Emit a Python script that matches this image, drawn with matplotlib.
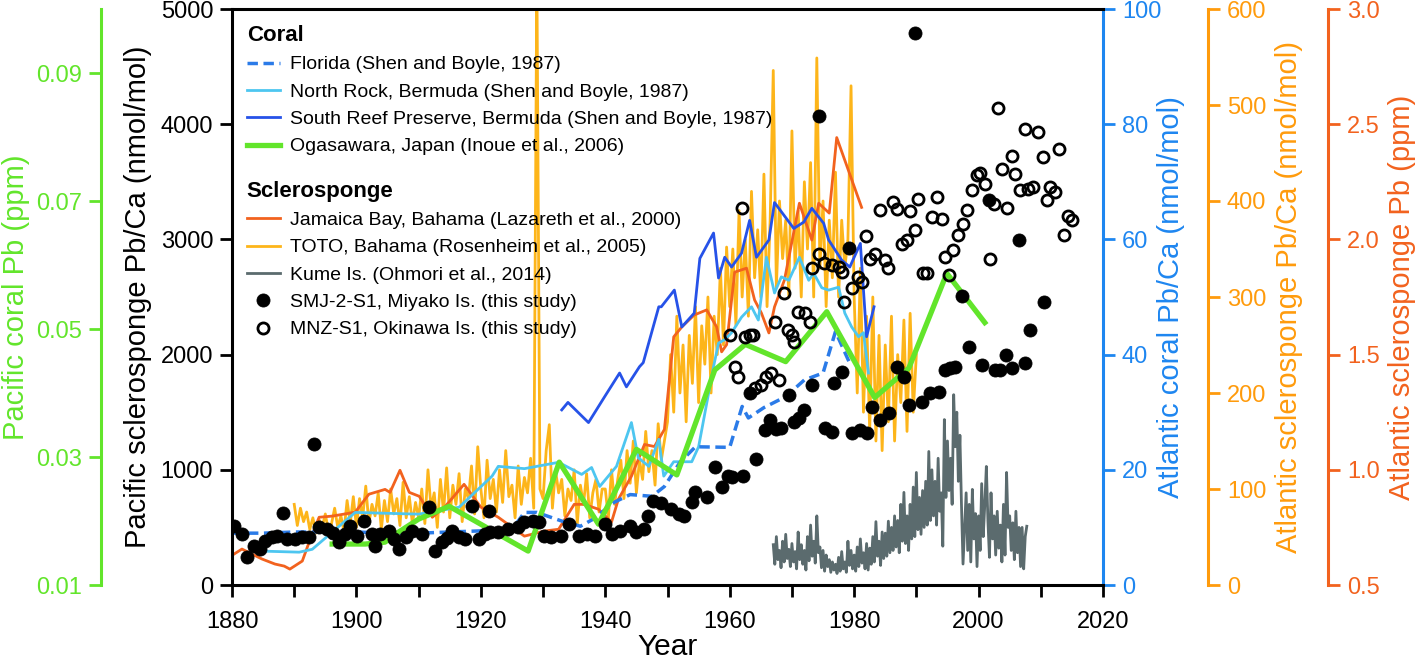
#------------- imports -------------#
import matplotlib
matplotlib.use("Agg")
import matplotlib.pyplot as plt
import numpy as np
from matplotlib.ticker import MultipleLocator, FormatStrFormatter

plt.rcParams['font.family'] = ['Liberation Sans', 'DejaVu Sans']


## colours ##
GREEN = '#62E52B'
BLUE_AX = '#1E86F0'
ORANGE_AX = '#FF9B0C'
RED_AX = '#F2621E'
FLORIDA_C = '#2B7BE8'
NROCK_C = '#4DC6F0'
SREEF_C = '#2652E8'
JAM_C = '#F2621E'
TOTO_C = '#FDB51A'
KUME_C = '#5B6B6E'


## Atlantic coral Pb/Ca (nmol/mol) ##
florida_yr = [1880, 1885, 1890, 1895, 1900, 1905, 1910, 1915, 1920, 1925, 1927, 1929, 1933, 1936,
              1938, 1941.5, 1944, 1947.5, 1949.5, 1952, 1954.5, 1960, 1962, 1963, 1965.5, 1969,
              1972, 1975, 1977, 1979.5]
florida_val = [9.0, 9.0, 9.2, 9.2, 9.2, 9.0, 9.0, 9.2, 9.4, 9.6, 12.6, 12.6, 11.1, 10.2,
               11.4, 14.4, 15.7, 15.4, 17.1, 21.3, 24.0, 23.9, 31.0, 29.0, 30.8, 32.7,
               35.6, 36.8, 44.0, 38.0]

nrock_yr = [1884.3, 1890.8, 1892.9, 1899.8, 1910, 1916.5, 1921.8, 1922.8, 1927, 1932.5,
            1936.2, 1937.8, 1939.1, 1941.8, 1944.2, 1945.3, 1947, 1948.6, 1949.4, 1951,
            1953.9, 1955, 1957.4, 1958.2, 1959.2, 1960.3, 1961.9, 1963.5, 1964.6, 1965.9,
            1967.2, 1968.3, 1969.5, 1971.2, 1972.7, 1973.5, 1974.8, 1975.9, 1977.5, 1978.5,
            1979.6, 1980.7, 1981.5, 1982.3]
nrock_val = [5.9, 5.7, 6.2, 12.6, 12.3, 13.5, 18.9, 20.6, 20.2, 21.3,
             19.2, 20.4, 17.1, 20.6, 28.2, 22.1, 20.6, 25.3, 18.9, 21.4,
             21.4, 24.0, 37.9, 42.0, 42.6, 43.8, 46.5, 48.3, 46.0, 56.9,
             50.7, 53.5, 52.9, 56.9, 52.9, 54.1, 51.6, 51.2, 51.7, 47.2,
             44.8, 43.1, 43.8, 36.8]

sreef_yr = [1933, 1934, 1937.3, 1939.9, 1942.3, 1943.4, 1945.5, 1946.1, 1948.6, 1949,
            1951.1, 1952.3, 1954.3, 1955.2, 1957.4, 1958.2, 1959.2, 1960.3, 1961.9, 1963.2,
            1964.3, 1966.3, 1967.2, 1970.3, 1971.9, 1973.2, 1975.1, 1975.9, 1978, 1979.3,
            1981, 1982, 1983.2]
sreef_val = [30.4, 31.7, 28.2, 32.7, 36.8, 34.4, 37.9, 38.6, 48.3, 48.3,
             51.2, 44.8, 47.2, 56.7, 61.1, 53.3, 56.9, 55.2, 57.6, 63.3,
             56.9, 59.9, 66.4, 61.9, 63.0, 65.4, 62.8, 59.9, 56.4, 55.2,
             59.3, 43.1, 48.3]

## Pacific coral Pb (ppm) ##
ogasawara_yr = [1896.1, 1901.4, 1904.6, 1906.2, 1910, 1914.9, 1927.6, 1932.6, 1938.9, 1945,
                1951.5, 1957.6, 1962.5, 1969, 1975.6, 1983.3, 1988.8, 1994.9, 2001]
ogasawara_val = [0.0164, 0.0164, 0.0167, 0.0179, 0.0203, 0.0223, 0.0153, 0.0292, 0.0195, 0.0312,
                 0.0272, 0.0436, 0.0476, 0.0449, 0.0527, 0.0393, 0.0439, 0.0587, 0.0510]

## Atlantic sclerosponge Pb (ppm) ##
jamaica_yr = [1879.5, 1881.6, 1884.8, 1886.9, 1888.4, 1889.3, 1891.3, 1892.4, 1894, 1896.1,
              1899.8, 1902, 1904.6, 1905.4, 1907, 1908.5, 1910.1, 1912.2, 1914.3, 1917.3,
              1920, 1922.8, 1927, 1930.2, 1932.5, 1935, 1936.6, 1938.9, 1941, 1942.1,
              1944.2, 1946.3, 1947.9, 1949.5, 1951, 1952.3, 1954.3, 1956.3, 1957.9, 1958.7,
              1959.5, 1960.8, 1962.7, 1964, 1965.1, 1966.3, 1967.2, 1968.8, 1971.2, 1973.2,
              1974.3, 1976, 1977.2, 1981.2]
jamaica_val = [0.62, 0.656, 0.613, 0.591, 0.582, 0.569, 0.604, 0.686, 0.794, 0.799,
               0.816, 0.894, 0.915, 0.902, 0.998, 0.902, 0.885, 0.794, 0.842, 0.937,
               0.838, 0.794, 0.712, 0.734, 0.742, 0.85, 0.85, 0.829, 0.773, 0.872,
               0.972, 1.11, 1.101, 1.175, 1.577, 1.62, 1.672, 1.694, 1.62, 1.512,
               1.543, 1.858, 1.875, 1.737, 1.68, 1.594, 1.707, 1.824, 2.157, 1.997,
               2.157, 2.114, 2.442, 2.139]

## Atlantic sclerosponge Pb/Ca (nmol/mol), TOTO, half-year steps 1890-1990 ##
toto_yr = np.arange(1890, 1990.01, 0.5)
toto_val = [84, 62, 80, 66, 76, 58, 70, 54, 68, 60, 74, 56, 64, 80, 60, 72, 56, 88, 64, 92,
            60, 90, 70, 103, 64, 84, 72, 96, 58, 88, 66, 100, 74, 90, 62, 107, 70, 92, 64, 86,
            70, 100, 64, 120, 80, 96, 60, 110, 76, 122, 70, 104, 84, 116, 66, 100, 90, 124, 74, 144,
            100, 70, 130, 90, 110, 76, 120, 86, 140, 92, 104, 70, 124, 84, 112, 96, 132, 80, 640, 100,
            90, 140, 167, 80, 120, 96, 110, 72, 100, 88, 120, 64, 104, 84, 116, 70, 96, 110, 76, 100,
            100, 70, 120, 84, 110, 130, 90, 140, 106, 150, 96, 130, 110, 160, 118, 140, 104, 168, 130, 150,
            170, 240, 180, 280, 200, 250, 170, 260, 210, 290, 190, 270, 230, 300, 200, 280, 240, 330, 250, 352,
            290, 350, 270, 390, 300, 360, 280, 410, 320, 370, 300, 428, 290, 380, 536, 310, 400, 340, 380, 300,
            473, 330, 390, 300, 420, 350, 440, 300, 549, 330, 400, 290, 380, 320, 430, 300, 380, 330, 360, 520,
            300, 200, 330, 180, 280, 160, 300, 150, 260, 140, 250, 170, 280, 150, 240, 190, 276, 160, 283, 180,
            240]

## Kume Is. (nmol/mol), quarter-year steps 1967-2007 ##
kume_yr = np.arange(1967, 2008, 0.25)
kume_val = [350, 180, 420, 220, 300, 150, 380, 200, 440, 230, 310, 160, 360, 200, 290, 140,
            460, 220, 350, 180, 300, 130, 420, 210, 520, 250, 380, 190, 600, 280, 330, 150,
            300, 120, 260, 160, 220, 110, 200, 130, 180, 100, 240, 120, 290, 140, 200, 110,
            380, 170, 300, 140, 260, 120, 330, 160, 400, 190, 280, 140, 360, 130, 320, 180,
            420, 200, 550, 250, 380, 170, 460, 230, 450, 250, 554, 280, 500, 300, 600, 330,
            560, 280, 700, 380, 804, 360, 600, 300, 700, 400, 850, 420, 977, 480, 760, 440,
            820, 500, 900, 520, 1159, 560, 1000, 600, 900, 520, 1100, 640, 800, 337, 1436, 760,
            1250, 820, 1100, 700, 1652, 1200, 1500, 900, 1300, 700, 182, 500, 800, 300, 700, 200,
            830, 400, 620, 160, 600, 300, 880, 420, 700, 1029, 560, 240, 800, 400, 600, 260,
            640, 320, 520, 200, 700, 260, 977, 500, 600, 300, 540, 220, 640, 280, 500, 160,
            500, 140, 420, 510]

## SMJ-2-S1, Miyako Is. (nmol/mol) ##
smj_yr = [1880.4, 1881.6, 1882.4, 1883.5, 1884.5, 1885.3, 1886.4, 1887.2, 1888.2, 1888.9,
          1890.1, 1891.3, 1892.4, 1893.2, 1894.0, 1895.3, 1896.2, 1897.2, 1898.2, 1899.0,
          1900.1, 1901.2, 1902.5, 1903.0, 1903.8, 1905.3, 1906.0, 1906.9, 1908.0, 1909.0,
          1910.6, 1911.7, 1912.7, 1913.8, 1914.6, 1915.4, 1916.5, 1917.5, 1918.5, 1919.7,
          1920.6, 1921.3, 1921.5, 1922.8, 1924.4, 1926.0, 1927.0, 1928.4, 1929.4, 1930.2,
          1931.3, 1932.9, 1934.2, 1935.7, 1937.0, 1938.3, 1939.9, 1941.0, 1942.3, 1943.9,
          1945.0, 1946.3, 1946.9, 1947.7, 1949.0, 1950.6, 1951.8, 1952.6, 1953.9, 1954.4,
          1956.3, 1957.6, 1958.7, 1959.8, 1960.3, 1962.2, 1963.2, 1964.3, 1965.6, 1966.4,
          1967.5, 1968.3, 1969.5, 1970.4, 1971.2, 1972.0, 1973.2, 1974.3, 1975.3, 1976.4,
          1976.7, 1978.0, 1979.1, 1979.6, 1980.9, 1982.0, 1982.8, 1984.1, 1985.6, 1986.9,
          1988.0, 1988.8, 1989.8, 1990.9, 1992.2, 1993.6, 1994.6, 1995.4, 1996.2, 1997.3,
          1998.4, 2000.5, 2001.6, 2002.6, 2003.5, 2004.4, 2005.4, 2006.5, 2007.5, 2008.3,
          2010.5]
smj_val = [510, 441, 242, 337, 311, 381, 415, 424, 623, 398,
           398, 415, 415, 1220, 502, 484, 450, 372, 440, 510,
           424, 554, 441, 337, 441, 467, 400, 311, 420, 467,
           441, 675, 294, 372, 410, 467, 420, 398, 683, 398,
           440, 640, 458, 458, 484, 502, 545, 554, 545, 424,
           415, 424, 528, 424, 441, 424, 528, 441, 467, 510,
           458, 484, 597, 727, 710, 660, 620, 597, 718, 804,
           761, 1020, 848, 943, 934, 943, 1669, 1090, 1349, 1436,
           1350, 1367, 1652, 1419, 1450, 1522, 1739, 4070, 1367, 1332,
           1756, 1851, 2924, 1323, 1349, 1323, 1548, 1436, 1496, 1894,
           1808, 1566, 4792, 1592, 1669, 1678, 1868, 1886, 1894, 2509,
           2067, 1912, 3339, 1868, 1870, 1998, 1886, 2993, 1929, 2214,
           2457]

## MNZ-S1, Okinawa Is. (nmol/mol) ##
mnz_yr = [1960.0, 1960.8, 1961.4, 1962.0, 1962.4, 1963.2, 1963.8, 1964.0, 1965.1, 1965.9,
          1966.7, 1967.2, 1967.9, 1968.7, 1969.4, 1970.0, 1970.4, 1971.0, 1972.1, 1972.9,
          1973.3, 1974.3, 1975.1, 1976.4, 1977.5, 1978.0, 1978.3, 1979.6, 1980.7, 1981.2,
          1981.9, 1982.5, 1983.4, 1984.2, 1985.0, 1985.5, 1986.3, 1986.9, 1987.7, 1988.5,
          1988.9, 1989.8, 1990.3, 1991.0, 1991.7, 1992.5, 1993.3, 1994.1, 1994.6, 1995.2,
          1995.9, 1996.7, 1997.5, 1998.1, 1998.9, 1999.7, 2000.3, 2001.1, 2001.9, 2002.4,
          2003.2, 2003.7, 2004.6, 2005.3, 2005.9, 2006.7, 2007.4, 2008.0, 2008.8, 2009.5,
          2010.3, 2011.0, 2011.5, 2012.3, 2013.0, 2013.7, 2014.4, 2015.0]
mnz_val = [2171, 1894, 1808, 3276, 2154, 2171, 2171, 1713, 1739, 1808,
           1842, 2286, 1782, 2535, 2214, 2171, 2111, 2373, 2359, 2286,
           2751, 2872, 2794, 2777, 2762, 2719, 2460, 2575, 2675, 2632,
           3027, 2826, 2877, 3253, 2820, 2748, 3324, 3267, 2964, 2993,
           3244, 3080, 3354, 2704, 2704, 3195, 3368, 3180, 2848, 2690,
           2906, 3036, 3137, 3258, 3431, 3555, 3575, 3483, 2834, 3310,
           4137, 3613, 3276, 3728, 3570, 3425, 3959, 3440, 3454, 3930,
           3714, 3339, 3454, 3411, 3786, 3036, 3200, 3166]


## figure and axes ##
fig = plt.figure(figsize=(14.18, 6.63), dpi=100)
ax = fig.add_axes([232/1418., 78/663., 871/1418., 576/663.])

ax_toto = ax.twinx()
ax_jam = ax.twinx()
ax_atl = ax.twinx()
ax_pac = ax.twinx()

ax.set_zorder(10)
ax.patch.set_visible(False)

SPINE_W = 2.2
TICK_L = 8.6
TICK_W = 2.0

for a in [ax_toto, ax_jam, ax_atl, ax_pac]:
    for s in a.spines.values():
        s.set_visible(False)

## main axis (black) ##
ax.spines['right'].set_visible(False)
for s in ['left', 'top', 'bottom']:
    ax.spines[s].set_linewidth(SPINE_W)
ax.set_xlim(1880, 2020)
ax.set_ylim(0, 5000)
ax.xaxis.set_major_locator(MultipleLocator(20))
ax.xaxis.set_minor_locator(MultipleLocator(10))
ax.yaxis.set_major_locator(MultipleLocator(1000))
ax.tick_params(axis='both', which='both', direction='out', length=TICK_L, width=TICK_W, labelsize=17)
ax.tick_params(axis='x', pad=10)
ax.tick_params(axis='y', pad=5)
ax.set_xlabel('Year', fontsize=21.5)
ax.xaxis.set_label_coords(0.5, -0.084)
ax.set_ylabel('Pacific sclerosponge Pb/Ca (nmol/mol)', fontsize=21)
ax.yaxis.set_label_coords(-0.092, 0.5)


## helper for the coloured y axes ##
def styleAxis(a, side, pos, color, lo, hi, step, fmt, label, labelx):

    a.spines[side].set_visible(True)
    a.spines[side].set_position(('axes', pos))
    a.spines[side].set_color(color)
    a.spines[side].set_linewidth(SPINE_W)
    if side == 'left':
        a.yaxis.set_ticks_position('left')
        a.yaxis.set_label_position('left')
    a.set_ylim(lo, hi)
    a.yaxis.set_major_locator(MultipleLocator(step))
    a.yaxis.set_major_formatter(FormatStrFormatter(fmt))
    a.tick_params(axis='y', direction='out', length=TICK_L, width=TICK_W, labelsize=17,
                  colors=color, pad=5)
    a.set_ylabel(label, color=color, fontsize=21)
    a.yaxis.set_label_coords(labelx, 0.5)

styleAxis(ax_pac, 'left', -0.1504, GREEN, 0.01, 0.1, 0.02, '%.2f', 'Pacific coral Pb (ppm)', -0.232)
ax_pac.set_yticks([0.01, 0.03, 0.05, 0.07, 0.09])
styleAxis(ax_atl, 'right', 1.0, BLUE_AX, 0, 100, 20, '%d', 'Atlantic coral Pb/Ca (nmol/mol)', 1.062)
styleAxis(ax_toto, 'right', 1.1206, ORANGE_AX, 0, 600, 100, '%d', 'Atlantic sclerosponge Pb/Ca (nmol/mol)', 1.197)
styleAxis(ax_jam, 'right', 1.2583, RED_AX, 0.5, 3.0, 0.5, '%.1f', 'Atlantic sclerosponge Pb (ppm)', 1.327)


## series ##
ln_toto, = ax_toto.plot(toto_yr, toto_val, color=TOTO_C, lw=2.0)
ln_jam, = ax_jam.plot(jamaica_yr, jamaica_val, color=JAM_C, lw=2.0)
ln_nrock, = ax_atl.plot(nrock_yr, nrock_val, color=NROCK_C, lw=2.0)
ln_sreef, = ax_atl.plot(sreef_yr, sreef_val, color=SREEF_C, lw=2.0)
ln_fl, = ax_atl.plot(florida_yr, florida_val, color=FLORIDA_C, lw=2.5, ls=(0, (3, 1.6)))
ln_oga, = ax_pac.plot(ogasawara_yr, ogasawara_val, color=GREEN, lw=3.8)

ln_kume, = ax.plot(kume_yr, kume_val, color=KUME_C, lw=2.0)
ln_smj, = ax.plot(smj_yr, smj_val, 'o', color='black', ms=9.4, mew=0.6)
ln_mnz, = ax.plot(mnz_yr, mnz_val, 'o', mfc='none', mec='black', ms=8.0, mew=2.0)


## legends ##
leg_kw = dict(loc='upper left', frameon=False, fontsize=14,
              title_fontproperties={'weight': 'bold', 'size': 16}, alignment='left',
              handlelength=1.7, handletextpad=0.5, labelspacing=0.5,
              borderpad=0, borderaxespad=0, numpoints=1)

leg1 = ax.legend([ln_fl, ln_nrock, ln_sreef, ln_oga],
                 ['Florida (Shen and Boyle, 1987)',
                  'North Rock, Bermuda (Shen and Boyle, 1987)',
                  'South Reef Preserve, Bermuda (Shen and Boyle, 1987)',
                  'Ogasawara, Japan (Inoue et al., 2006)'],
                 title='Coral', bbox_to_anchor=(0.017, 0.972), **leg_kw)
ax.add_artist(leg1)

leg2 = ax.legend([ln_jam, ln_toto, ln_kume, ln_smj, ln_mnz],
                 ['Jamaica Bay, Bahama (Lazareth et al., 2000)',
                  'TOTO, Bahama (Rosenheim et al., 2005)',
                  'Kume Is. (Ohmori et al., 2014)',
                  'SMJ-2-S1, Miyako Is. (this study)',
                  'MNZ-S1, Okinawa Is. (this study)'],
                 title='Sclerosponge', bbox_to_anchor=(0.017, 0.702), **leg_kw)

plt.savefig('out.png', dpi=100)
